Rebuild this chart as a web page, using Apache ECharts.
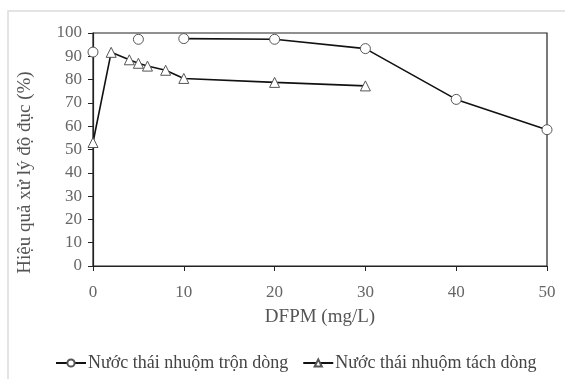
<!DOCTYPE html>
<html><head><meta charset="utf-8">
<script src="https://cdn.jsdelivr.net/npm/echarts@6/dist/echarts.min.js"></script>
<style>html,body{margin:0;padding:0;background:#fff}#c{width:565px;height:379px}</style>
</head><body><div id="c"></div>
<script>
// Data
var mixX = [0, 5, 10, 20, 30, 40, 50];
var mixY = [91.8, 97.3, 97.6, 97.3, 93.3, 71.5, 58.5];
var sepX = [0, 2, 4, 5, 6, 8, 10, 20, 30];
var sepY = [53, 91.7, 88.5, 87, 85.8, 84, 80.5, 78.8, 77.3];
var seriesNames = ['Nước thái nhuộm trộn dòng', 'Nước thái nhuộm tách dòng'];
var xTicks = [0, 10, 20, 30, 40, 50];
var yTicks = [0, 10, 20, 30, 40, 50, 60, 70, 80, 90, 100];

function pairs(xs, ys) { return xs.map(function (x, i) { return [x, ys[i]]; }); }
var mixPts = pairs(mixX, mixY);
// the first two measurements of the mixed series are drawn unconnected
var mixIsolated = mixPts.slice(0, 2);
var mixConnected = mixPts.slice(2);

var FONT = '"Liberation Serif", "Times New Roman", serif';
var chart = echarts.init(document.getElementById('c'), null, { renderer: 'canvas' });
var markerStyle = { color: '#fff', borderColor: '#555', borderWidth: 1 };
chart.setOption({
  animation: false,
  textStyle: { fontFamily: FONT },
  graphic: [{ type: 'rect', shape: { x: 8, y: 11, width: 600, height: 400 }, style: { fill: 'none', stroke: '#dcdcdc', lineWidth: 1.5 }, silent: true }],
  grid: { left: 93, right: 18, top: 33, bottom: 113, show: true, borderColor: '#222', borderWidth: 1.2, backgroundColor: 'transparent' },
  xAxis: {
    type: 'value', min: 0, max: 50, interval: 10,
    name: 'DFPM (mg/L)', nameLocation: 'middle', nameGap: 42,
    nameTextStyle: { fontFamily: FONT, fontSize: 19, color: '#555' },
    axisLine: { show: true, lineStyle: { color: '#222', width: 1.2 } },
    axisTick: { show: true, inside: false, length: 5, lineStyle: { color: '#222' } },
    axisLabel: { fontFamily: FONT, fontSize: 17, color: '#666', margin: 18,
      formatter: function (v) { return xTicks.indexOf(v) >= 0 ? String(v) : ''; } },
    splitLine: { show: false }
  },
  yAxis: {
    type: 'value', min: 0, max: 100, interval: 10,
    name: 'Hiệu quả xử lý độ đục (%)', nameLocation: 'middle', nameGap: 58, nameRotate: 90,
    nameTextStyle: { fontFamily: FONT, fontSize: 19, color: '#555', padding: [0, 46, 0, 0] },
    axisLine: { show: true, lineStyle: { color: '#222', width: 1.2 } },
    axisTick: { show: true, inside: false, length: 5, lineStyle: { color: '#222' } },
    axisLabel: { fontFamily: FONT, fontSize: 17, color: '#666', margin: 11,
      formatter: function (v) { return yTicks.indexOf(v) >= 0 ? String(v) : ''; } },
    splitLine: { show: false }
  },
  legend: {
    bottom: 2, left: 50, itemGap: 14, itemWidth: 30, itemHeight: 9,
    textStyle: { fontFamily: FONT, fontSize: 18, color: '#444', padding: [0, 0, 0, -3] },
    data: seriesNames
  },
  series: [
    { name: seriesNames[0], type: 'line', data: mixConnected, symbol: 'circle', symbolSize: 10,
      showAllSymbol: true, lineStyle: { color: '#111', width: 1.6 }, itemStyle: markerStyle, z: 3 },
    { name: seriesNames[0], type: 'line', data: mixIsolated, symbol: 'circle', symbolSize: 10,
      lineStyle: { width: 0, opacity: 0 }, itemStyle: markerStyle, z: 3 },
    { name: seriesNames[1], type: 'line', data: pairs(sepX, sepY), symbol: 'triangle', symbolSize: 10,
      showAllSymbol: true, lineStyle: { color: '#111', width: 1.6 }, itemStyle: markerStyle, z: 3 }
  ]
});
</script></body></html>
